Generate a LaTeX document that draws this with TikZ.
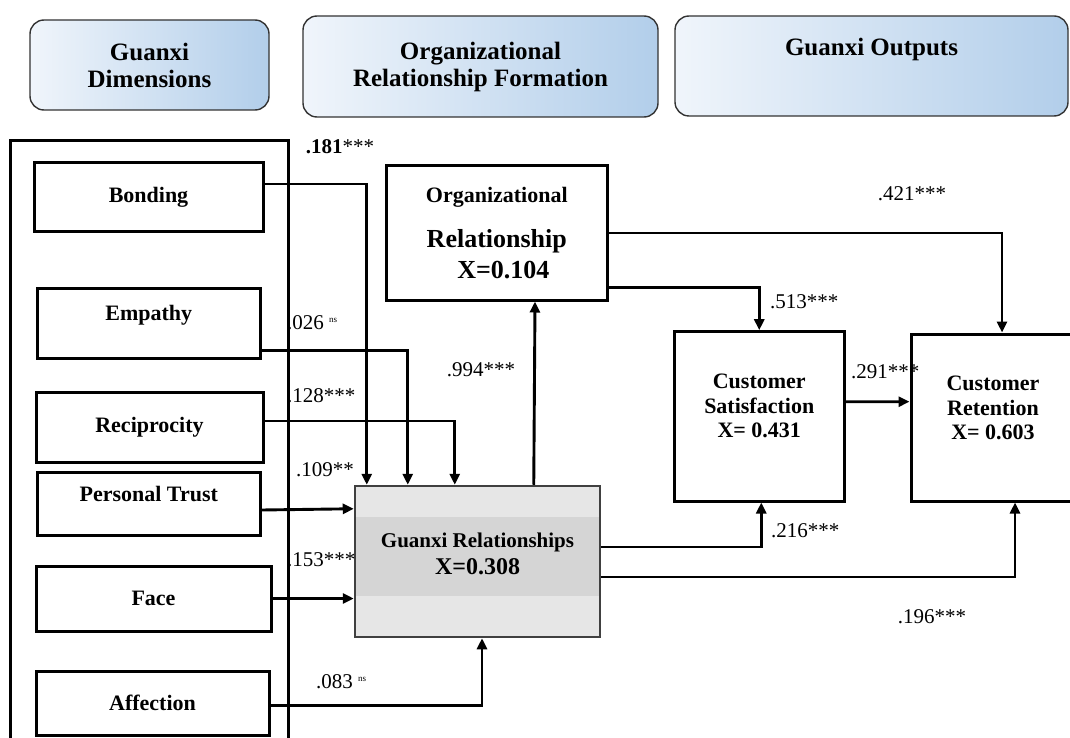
\documentclass[tikz,border=0pt]{standalone}
\usepackage{fontspec}
\setmainfont{Liberation Serif}
\usetikzlibrary{arrows.meta, positioning, calc}

\definecolor{hdrlight}{HTML}{F0F5FB}
\definecolor{hdrdark}{HTML}{B2CEEA}
\definecolor{gxfill}{HTML}{E6E6E6}
\definecolor{gxband}{HTML}{D5D5D5}

\newcommand{\nsmark}{\textsuperscript{\fontsize{9}{9}\selectfont ns}}
% lift a block of lines by padding its depth
\newcommand{\liftby}[2]{\raisebox{0pt}[\height][\dimexpr\depth+#1\relax]{#2}}

\begin{document}
\begin{tikzpicture}[x=1pt, y=-1pt, >={Triangle[length=11pt,width=10pt]},
    header/.style={draw=black!80, line width=1.4pt, rounded corners=14pt,
      left color=hdrlight, right color=hdrdark, align=center, inner sep=0pt,
      font=\bfseries\fontsize{25}{27}\selectfont},
    dimbox/.style={draw, line width=3pt, inner sep=0pt,
      font=\bfseries\fontsize{22}{26}\selectfont},
    outbox/.style={draw, line width=3pt, inner sep=0pt,
      font=\bfseries\fontsize{22}{24.5}\selectfont},
    conn/.style={line width=2.9pt},
    coef/.style={inner sep=0pt, font=\fontsize{21}{24}\selectfont}]
    \useasboundingbox (0,0) rectangle (1070,738);
    \clip (0,0) rectangle (1070,738);

    % Draw the three stage headers
    \node[header, minimum width=239, minimum height=90] (hdim) at (149.5,65) {Guanxi\\Dimensions};
    \node[header, minimum width=355, minimum height=101] (horg) at (480.5,66.5) {Organizational\\Relationship Formation};
    \node[header, minimum width=393, minimum height=100] (hout) at (871.5,66) {\raisebox{39pt}{Guanxi Outputs}};

    % Frame around the dimensions
    \draw[line width=3pt] (10.5,760) |- (288,141) -- (288,760);

    % Draw the six guanxi dimensions
    \node[dimbox, minimum width=229, minimum height=68] (bond) at (148.5,197) {Bonding};
    \node[dimbox, minimum width=222.5, minimum height=70.5] (emp) at (148.75,323.25) {\raisebox{20pt}{Empathy}};
    \node[dimbox, minimum width=227, minimum height=70] (rec) at (149.5,427) {Reciprocity};
    \node[dimbox, minimum width=222.5, minimum height=63] (pt) at (148.75,503.5) {\raisebox{19.5pt}{Personal Trust}};
    \node[dimbox, minimum width=235, minimum height=65] (face) at (153.5,598.5) {Face};
    \node[dimbox, minimum width=233, minimum height=64] (aff) at (152.5,703) {Affection};

    % Draw the relationship boxes
    \node[dimbox, minimum width=221.6, minimum height=134, align=center,
      font=\bfseries\fontsize{26}{31}\selectfont] (org) at (496.8,233)
      {{\fontsize{22}{26}\selectfont Organizational}\\[14pt]Relationship\\\ \ X=0.104};
    \node[draw=black!75, line width=2.5pt, fill=gxfill, inner sep=0pt,
      minimum width=245, minimum height=151,
      font=\bfseries\fontsize{24}{27}\selectfont,
      path picture={\fill[gxband] ([yshift=-31pt]path picture bounding box.north west)
        rectangle ([yshift=-110pt]path picture bounding box.north east);}] (gx) at (477.5,561.5)
      {\liftby{12pt}{\begin{tabular}{@{}c@{}}{\fontsize{21}{24}\selectfont Guanxi Relationships}\\X=0.308\end{tabular}}};

    % Draw the outputs
    \node[outbox, minimum width=169.5, minimum height=169.3] (sat) at (759.25,416.35)
      {\liftby{16pt}{\begin{tabular}{@{}c@{}}Customer\\Satisfaction\\X= 0.431\end{tabular}}};
    \node[outbox, minimum width=164, minimum height=167] (ret) at (993,417.5)
      {\liftby{14pt}{\begin{tabular}{@{}c@{}}Customer\\Retention\\X= 0.603\end{tabular}}};

    % Dimensions into guanxi relationships
    \draw[conn, ->] ([yshift=13pt]bond.east) -| ([xshift=13pt]gx.north west);
    \draw[conn, ->] ([yshift=-27pt]emp.east) -| ([xshift=54pt]gx.north west);
    \draw[conn, ->] ([yshift=6pt]rec.east) -| ([xshift=101pt]gx.north west);
    \draw[conn, ->] ([yshift=-6.5pt]pt.east) -- ([yshift=-24pt]gx.north west);
    \draw[conn, ->] (face.east) -- ([yshift=-37pt]gx.west);
    \draw[conn, ->] ([yshift=-2.5pt]aff.east) -| ([xshift=4.5pt]gx.south);
    \draw[conn, ->] ([xshift=180pt]gx.north west) -- ([xshift=38.2pt]org.south);

    % Paths to the outputs
    \draw[conn, ->] (org.east) -| ([xshift=9pt]ret.north);
    \draw[conn, ->] ([yshift=14pt]org.south east) -| (sat.north);
    \draw[conn, ->] ([yshift=14.6pt]sat.east) -- ([yshift=15.8pt]ret.west);
    \draw[conn, ->] ([yshift=14.5pt]gx.east) -| ([xshift=2pt]sat.south);
    \draw[conn, ->] ([yshift=-15.5pt]gx.east) -| ([xshift=22pt]ret.south);

    % Path coefficients
    \node[coef] (c181) at (340,147) {{\bfseries .181}***};
    \node[coef, anchor=west] (c026) at (287,323) {.026 \nsmark};
    \node[coef] (c994) at (481,370) {.994***};
    \node[coef, anchor=west] (c128) at (287,396) {.128***};
    \node[coef, anchor=west] (c109) at (296,470) {.109**};
    \node[coef, anchor=west] (c153) at (287,560) {.153***};
    \node[coef, anchor=west] (c083) at (316,682) {.083 \nsmark};
    \node[coef] (c421) at (912,194) {.421***};
    \node[coef, anchor=west] (c513) at (770,302) {.513***};
    \node[coef, anchor=west] (c291) at (851,372) {.291***};
    \node[coef, anchor=west] (c216) at (771,531) {.216***};
    \node[coef] (c196) at (932,617) {.196***};
\end{tikzpicture}
\end{document}
